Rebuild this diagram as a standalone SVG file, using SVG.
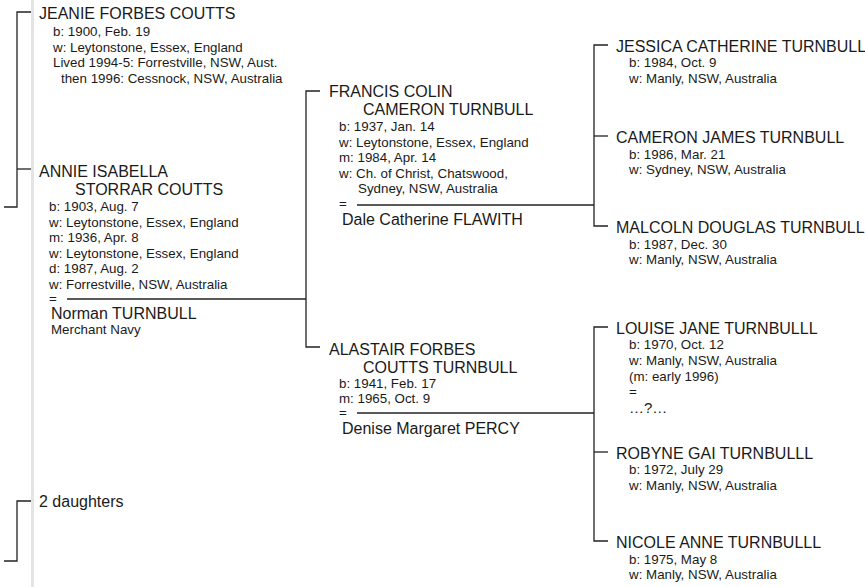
<svg xmlns="http://www.w3.org/2000/svg" width="865" height="587" viewBox="0 0 865 587">
<style>
  text { font-family: "Liberation Sans", Arial, Helvetica, sans-serif; fill: #1a1a1a; }
  .n { font-size: 16px; }
  .d { font-size: 13.33px; }
  .q { font-size: 15px; }
  .ln { fill: none; stroke: #222; stroke-width: 1.3; }
</style>
<rect x="0" y="0" width="865" height="587" fill="#ffffff"/>
<rect id="page-edge" x="31" y="0" width="3" height="587" fill="#e4e4e4"/>

<g id="connectors">
  <path class="ln" d="M31,12 H17 V207 H4"/>
  <path class="ln" d="M17,169 H31"/>
  <path class="ln" d="M31,501 H17 V561 H4"/>
  <path class="ln" d="M67,299 H306"/>
  <path class="ln" d="M320,91 H306 V347 H320"/>
  <path class="ln" d="M357,205 H594"/>
  <path class="ln" d="M608,45 H594 V226 H608"/>
  <path class="ln" d="M594,136 H608"/>
  <path class="ln" d="M357,413 H594"/>
  <path class="ln" d="M608,327 H594 V541 H608"/>
  <path class="ln" d="M594,452 H608"/>
</g>

<g id="jeanie">
  <text class="n" x="39" y="19">JEANIE FORBES COUTTS</text>
  <text class="d" x="53" y="36">b: 1900, Feb. 19</text>
  <text class="d" x="53" y="51.5">w: Leytonstone, Essex, England</text>
  <text class="d" x="53" y="67">Lived 1994-5: Forrestville, NSW, Aust.</text>
  <text class="d" x="61" y="82.5">then 1996: Cessnock, NSW, Australia</text>
</g>

<g id="annie">
  <text class="n" x="39" y="177">ANNIE ISABELLA</text>
  <text class="n" x="75" y="195">STORRAR COUTTS</text>
  <text class="d" x="49" y="211">b: 1903, Aug. 7</text>
  <text class="d" x="49" y="226.5">w: Leytonstone, Essex, England</text>
  <text class="d" x="49" y="242">m: 1936, Apr. 8</text>
  <text class="d" x="49" y="257.5">w: Leytonstone, Essex, England</text>
  <text class="d" x="49" y="273">d: 1987, Aug. 2</text>
  <text class="d" x="49" y="288.5">w: Forrestville, NSW, Australia</text>
  <text class="d" x="49" y="303">=</text>
</g>

<g id="norman">
  <text class="n" x="51" y="319">Norman TURNBULL</text>
  <text class="d" x="51" y="334">Merchant Navy</text>
</g>

<g id="daughters">
  <text class="n" x="39" y="507">2 daughters</text>
</g>

<g id="francis">
  <text class="n" x="329" y="97">FRANCIS COLIN</text>
  <text class="n" x="363" y="115">CAMERON TURNBULL</text>
  <text class="d" x="339" y="131">b: 1937, Jan. 14</text>
  <text class="d" x="339" y="146.5">w: Leytonstone, Essex, England</text>
  <text class="d" x="339" y="162">m: 1984, Apr. 14</text>
  <text class="d" x="339" y="177.5">w: Ch. of Christ, Chatswood,</text>
  <text class="d" x="358" y="193">Sydney, NSW, Australia</text>
  <text class="d" x="339" y="208">=</text>
</g>

<g id="dale">
  <text class="n" x="342" y="225">Dale Catherine FLAWITH</text>
</g>

<g id="alastair">
  <text class="n" x="329" y="355">ALASTAIR FORBES</text>
  <text class="n" x="363" y="373">COUTTS TURNBULL</text>
  <text class="d" x="339" y="387.5">b: 1941, Feb. 17</text>
  <text class="d" x="339" y="402.5">m: 1965, Oct. 9</text>
  <text class="d" x="339" y="416.5">=</text>
</g>

<g id="denise">
  <text class="n" x="342" y="434">Denise Margaret PERCY</text>
</g>

<g id="jessica">
  <text class="n" x="616" y="52">JESSICA CATHERINE TURNBULL</text>
  <text class="d" x="629" y="67">b: 1984, Oct. 9</text>
  <text class="d" x="629" y="82.5">w: Manly, NSW, Australia</text>
</g>

<g id="cameron">
  <text class="n" x="616" y="143">CAMERON JAMES TURNBULL</text>
  <text class="d" x="629" y="158.5">b: 1986, Mar. 21</text>
  <text class="d" x="629" y="174">w: Sydney, NSW, Australia</text>
</g>

<g id="malcoln">
  <text class="n" x="616" y="233">MALCOLN DOUGLAS TURNBULL</text>
  <text class="d" x="629" y="248.5">b: 1987, Dec. 30</text>
  <text class="d" x="629" y="264">w: Manly, NSW, Australia</text>
</g>

<g id="louise">
  <text class="n" x="616" y="334">LOUISE JANE TURNBULLL</text>
  <text class="d" x="629" y="349">b: 1970, Oct. 12</text>
  <text class="d" x="629" y="364.5">w: Manly, NSW, Australia</text>
  <text class="d" x="629" y="380.5">(m: early 1996)</text>
  <text class="d" x="629" y="396">=</text>
  <text class="q" x="629" y="413">…?…</text>
</g>

<g id="robyne">
  <text class="n" x="616" y="458.5">ROBYNE GAI TURNBULLL</text>
  <text class="d" x="629" y="474">b: 1972, July 29</text>
  <text class="d" x="629" y="489.5">w: Manly, NSW, Australia</text>
</g>

<g id="nicole">
  <text class="n" x="616" y="548">NICOLE ANNE TURNBULLL</text>
  <text class="d" x="629" y="563.5">b: 1975, May 8</text>
  <text class="d" x="629" y="579">w: Manly, NSW, Australia</text>
</g>
</svg>
